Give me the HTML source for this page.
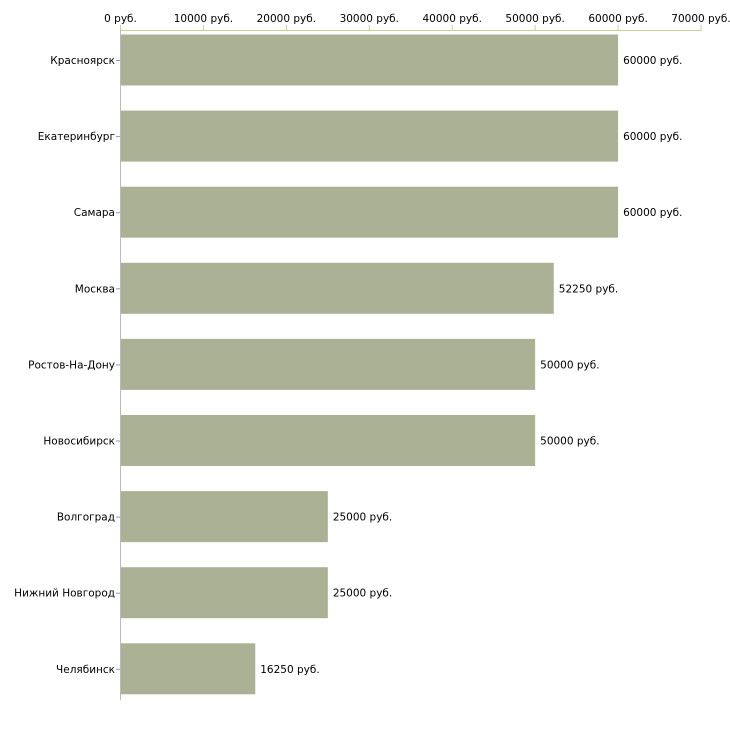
<!DOCTYPE html>
<html><head><meta charset="utf-8"><style>
body{margin:0;background:#fff}
svg text{font-family:"DejaVu Sans","Liberation Sans",sans-serif;font-size:10.5px;fill:#000}
</style></head><body>
<svg id="c" width="730" height="730"></svg>
<script>
const categories=["Красноярск","Екатеринбург","Самара","Москва","Ростов-На-Дону","Новосибирск","Волгоград","Нижний Новгород","Челябинск"];
const values=[60000,60000,60000,52250,50000,50000,25000,25000,16250];
const ticks=[0,10000,20000,30000,40000,50000,60000,70000];
const ns="http://www.w3.org/2000/svg",svg=document.getElementById('c');
const x0=120.5,xMax=70000,xw=580.5;
const X=v=>x0+v/xMax*xw;
const Y=i=>60+i*76.1;
function el(t,a,txt){const e=document.createElementNS(ns,t);for(const k in a)e.setAttribute(k,a[k]);if(txt!=null)e.textContent=txt;svg.appendChild(e);return e;}
let e=el('line',{x1:x0,y1:30.5,x2:X(xMax),y2:30.5,stroke:'#cccc99'});


ticks.forEach(t=>{
 let l=el('line',{x1:X(t),y1:25,x2:X(t),y2:31,stroke:'#cccc99'});
 
 
 let tx=el('text',{x:X(t),y:22,'text-anchor':'middle'},t+' руб.');
 
 
});
categories.forEach((c,i)=>{
 const y=Y(i);
 let r=el('rect',{x:x0+0.5,y:y-25.5,width:X(values[i])-x0-0.5,height:51,fill:'#abb195'});
 
 
 let tk=el('line',{x1:116,y1:y+0.5,x2:120,y2:y+0.5,stroke:'#999'});
 
 
 let lb=el('text',{x:115,y:y+4,'text-anchor':'end'},c);
 
 
 let vl=el('text',{x:X(values[i])+5,y:y+4},values[i]+' руб.');
 
 
});
let ax=el('line',{x1:x0,y1:30,x2:x0,y2:700,stroke:'#bbbbbb'});


</script>
</body></html>
